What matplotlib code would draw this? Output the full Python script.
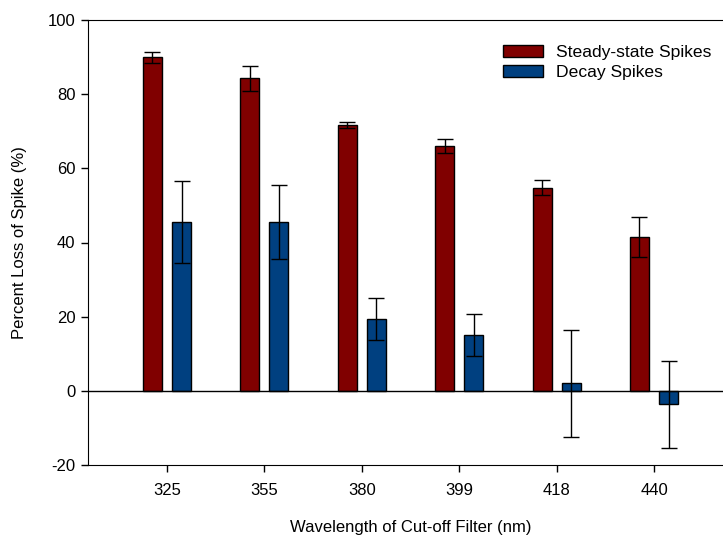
import matplotlib.pyplot as plt
import numpy as np

plt.rcParams['font.family'] = ['Liberation Sans', 'DejaVu Sans']
plt.rcParams['axes.unicode_minus'] = False

wavelengths = ['325', '355', '380', '399', '418', '440']
steady = [90.0, 84.3, 71.7, 66.0, 54.8, 41.4]
steady_err = [1.5, 3.4, 0.9, 1.8, 2.1, 5.4]
decay = [45.6, 45.5, 19.3, 15.0, 2.0, -3.6]
decay_err = [11.0, 10.0, 5.7, 5.6, 14.5, 11.7]

x = np.arange(len(wavelengths))
w = 0.195
off = 0.15

fig = plt.figure(figsize=(7.23, 5.35), dpi=100)
ax = fig.add_axes([88 / 723, 70 / 535, 645 / 723, 445 / 535])

err_kw = dict(ecolor='black', elinewidth=1, capsize=6, capthick=1)
ax.bar(x - off, steady, w, yerr=steady_err, color='#800000', edgecolor='black',
       linewidth=1, error_kw=err_kw, label='Steady-state Spikes', zorder=2)
ax.bar(x + off, decay, w, yerr=decay_err, color='#004080', edgecolor='black',
       linewidth=1, error_kw=err_kw, label='Decay Spikes', zorder=2)

ax.axhline(0, color='black', linewidth=1, zorder=3)

ax.set_xlim(-0.81, 5.81)
ax.set_ylim(-20, 100)
ax.set_yticks(range(-20, 101, 20))
ax.set_xticks(x)
ax.set_xticklabels(wavelengths)
ax.tick_params(direction='out', length=5, width=1, labelsize=12, pad=8)
ax.tick_params(axis='y', pad=4)
ax.spines['right'].set_visible(False)

ax.set_xlabel('Wavelength of Cut-off Filter (nm)', fontsize=12, labelpad=16)
ax.set_ylabel('Percent Loss of Spike (%)', fontsize=12, labelpad=15)

ax.legend(loc='upper right', bbox_to_anchor=(0.9905, 0.98), frameon=False, fontsize=12.6,
          handlelength=2.3, handleheight=0.7, labelspacing=0.3, handletextpad=0.7)

fig.savefig('out.png', dpi=100)
